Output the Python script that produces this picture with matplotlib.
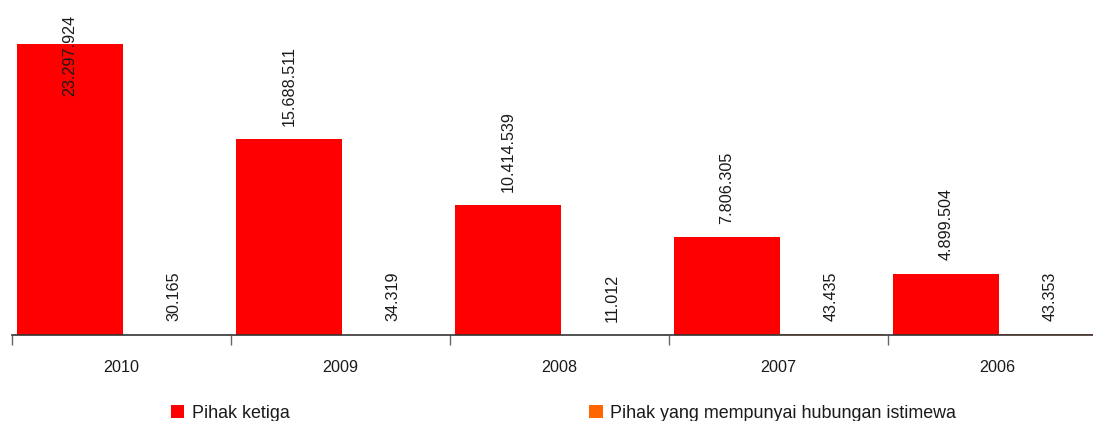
import matplotlib
matplotlib.use("Agg")
import matplotlib.pyplot as plt
from matplotlib.patches import Patch

years = ["2010", "2009", "2008", "2007", "2006"]
pihak_ketiga = [23297924, 15688511, 10414539, 7806305, 4899504]
hubungan_istimewa = [30165, 34319, 11012, 43435, 43353]
series_names = ["Pihak ketiga", "Pihak yang mempunyai hubungan istimewa"]

plt.rcParams["font.family"] = ["Liberation Sans", "DejaVu Sans"]

RED = "#FF0000"
ORANGE = "#FF6600"
TXT = "#1a1a1a"
FS = 11.6
LEG_FS = 12.9

W, H = 1093, 421
fig = plt.figure(figsize=(W / 100, H / 100), dpi=100)
ax = fig.add_axes([12 / W, (H - 335) / H, 1095 / W, 320 / H])

x = list(range(len(years)))
bw = 0.48
red_x = [i - 0.235 for i in x]
org_x = [i + 0.24 for i in x]
ax.bar(red_x, pihak_ketiga, width=bw, color=RED, label=series_names[0])
ax.bar(org_x, hubungan_istimewa, width=bw, color=ORANGE, label=series_names[1])

ymax = 25.62e6
ax.set_ylim(0, ymax)
ax.set_xlim(-0.5, len(years) - 0.5)


def fmt(v):
    return f"{v:,}".replace(",", ".")


def label(xp, v):
    # label sits above the bar; if it would leave the plot, pin it to the top
    est_top_px = (v / ymax) * 320 + 9.4 * 1.389 + len(fmt(v)) * 7.8
    if est_top_px > 320:
        ax.annotate(fmt(v), xy=(xp, 1.0), xycoords=("data", "axes fraction"),
                    rotation=90, ha="center", va="top", fontsize=FS, color=TXT)
    else:
        ax.annotate(fmt(v), xy=(xp, v), xytext=(0, 9.6), textcoords="offset points",
                    rotation=90, ha="center", va="bottom", fontsize=FS, color=TXT)


for xp, v in zip(red_x, pihak_ketiga):
    label(xp, v)
for xp, v in zip(org_x, hubungan_istimewa):
    label(xp, v)

for s in ["left", "right", "top"]:
    ax.spines[s].set_visible(False)
ax.spines["bottom"].set_color("#333333")
ax.spines["bottom"].set_linewidth(1.2)
ax.spines["bottom"].set_zorder(3)
ax.set_yticks([])

ax.set_xticks(x)
ax.set_xticklabels(years, fontsize=FS, color=TXT)
ax.tick_params(axis="x", which="major", length=0, pad=18)
ax.set_xticks([i - 0.5 for i in range(len(years) + 1)], minor=True)
ax.tick_params(axis="x", which="minor", length=7, width=1, color="#666666")

handles = [Patch(facecolor=RED, edgecolor="none"), Patch(facecolor=ORANGE, edgecolor="none")]
fig.legend(handles, series_names, loc="center left", bbox_to_anchor=(171 / W, 1 - 413.5 / H),
           ncol=2, frameon=False, fontsize=LEG_FS, handlelength=0.75, handleheight=0.75,
           handletextpad=0.4, columnspacing=16.73, labelcolor=TXT, borderaxespad=0,
           borderpad=0)

fig.savefig("out.png", dpi=100)
